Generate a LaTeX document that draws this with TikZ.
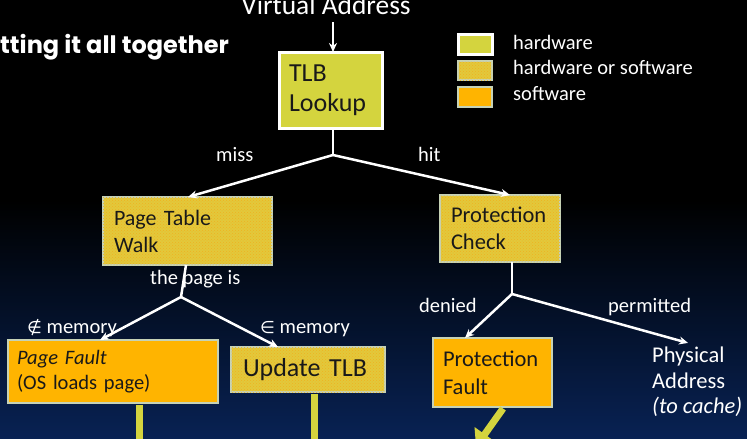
\documentclass[tikz,border=0pt]{standalone}
\usepackage{fontspec}
\setmainfont{Carlito}
\newfontfamily\titlefont{Poppins}
\newfontfamily\symfont{DejaVu Sans}
\usetikzlibrary{arrows.meta,patterns,calc}
\definecolor{hwc}{RGB}{212,212,62}
\definecolor{hwswc}{RGB}{226,200,60}
\definecolor{dotc}{RGB}{240,178,30}
\definecolor{swc}{RGB}{255,180,0}
\definecolor{edgec}{RGB}{198,210,182}
\definecolor{navy}{RGB}{8,34,84}
\definecolor{txt}{RGB}{25,25,25}
\begin{document}
\begin{tikzpicture}[x=1pt,y=-1pt,
 box/.style={draw=edgec, line width=2.5pt, anchor=north west, inner ysep=0pt, text=txt, align=left, outer sep=0pt},
 hwbox/.style={box, draw=white, line width=3pt, fill=hwc},
 hwswbox/.style={box, fill=hwswc, postaction={pattern=crosshatch dots, pattern color=dotc}},
 swbox/.style={box, fill=swc},
 wline/.style={white, line width=2.5pt},
 warrow/.style={wline, -{Stealth[length=9pt,width=8pt]}},
 ylane/.style={hwc, line width=7pt},
 lbl/.style={white, anchor=base west, inner sep=0pt, font=\fontsize{20.5}{24}\selectfont},
]
\useasboundingbox (0,0) rectangle (747,439);
\fill[black] (0,0) rectangle (747,439);
\shade[top color=black, bottom color=navy] (0,200) rectangle (747,440);

% title and legend
\node[white, anchor=base west, inner sep=0pt, font=\titlefont\bfseries\fontsize{24}{28}\selectfont] (title) at (0,53) {tting it all together};
\node[hwbox, minimum width=34pt, minimum height=20pt, inner sep=0pt] (lg1) at (458,34) {};
\node[hwswbox, minimum width=34pt, minimum height=19pt, inner sep=0pt] (lg2) at (458,61) {};
\node[swbox, minimum width=34pt, minimum height=20pt, inner sep=0pt] (lg3) at (458,87) {};
\node[lbl] (lt1) at (513,49) {hardware};
\node[lbl] (lt2) at (513,74) {hardware or software};
\node[lbl] (lt3) at (513,100) {software};

% top
\node[white, anchor=base, inner sep=0pt, font=\fontsize{27.4}{30}\selectfont] (va) at (326,14) {Virtual Address};
\node[hwbox, minimum width=103pt, minimum height=76pt, inner xsep=10pt, text width=83pt, font=\fontsize{26}{30}\selectfont] (tlb) at (279,52) {TLB\\Lookup};

% second row
\node[hwswbox, minimum width=169pt, minimum height=68pt, inner xsep=11pt, text width=147pt, font=\fontsize{22}{27}\selectfont] (ptw) at (103,197) {Page Table\\Walk};
\node[hwswbox, minimum width=120pt, minimum height=67pt, inner xsep=11pt, text width=98pt, font=\fontsize{22.5}{27}\selectfont] (pc) at (440,195) {Protection\\Check};

% third row
\node[swbox, minimum width=210pt, minimum height=63pt, inner xsep=9pt, text width=192pt, font=\fontsize{20.5}{25}\selectfont] (pgf) at (8,340) {\textit{Page Fault}\\(OS loads page)};
\node[hwswbox, minimum width=154pt, minimum height=45pt, inner xsep=12pt, text width=130pt, font=\fontsize{26}{30}\selectfont] (utlb) at (231,347) {Update TLB};
\node[swbox, minimum width=119pt, minimum height=69pt, inner xsep=10pt, text width=99pt, font=\fontsize{22.5}{28}\selectfont] (prf) at (433,338) {Protection\\Fault};
\node[white, anchor=west, inner sep=0pt, align=left, font=\fontsize{22.5}{25.5}\selectfont] (pa) at (652,382) {Physical\\Address\\\textit{(to cache)}};

% junctions
\coordinate (j1) at (333,155);
\coordinate (j2) at (181,297);
\coordinate (j3) at (512,294);

% connectors
\draw[warrow] ([xshift=7pt,yshift=-8pt]va.south) -- ([xshift=2.5pt]tlb.north);
\draw[wline] ([xshift=2.5pt]tlb.south) -- (j1);
\draw[warrow] (j1) -- ([xshift=85pt]ptw.north west);
\draw[warrow] (j1) -- ([xshift=70pt]pc.north west);
\draw[wline] ([xshift=-1.5pt]ptw.south) -- (j2);
\draw[warrow] (j2) -- ([xshift=92pt]pgf.north west);
\draw[warrow] (j2) -- ([xshift=47pt]utlb.north west);
\draw[wline] ([xshift=12pt]pc.south) -- (j3);
\draw[warrow] (j3) -- ([xshift=32pt]prf.north west);
\draw[warrow] (j3) -- ([xshift=36pt,yshift=4pt]pa.north west);

% labels
\node[lbl] (lmiss) at (216,161) {miss};
\node[lbl] (lhit) at (418,161) {hit};
\node[lbl] (lpage) at (150,284) {the page is};
\node[lbl] (lnot) at (27,333) {{\symfont\fontsize{17}{20}\selectfont ∉} memory};
\node[lbl] (lin) at (260,333) {{\symfont\fontsize{17}{20}\selectfont ∈} memory};
\node[lbl] (lden) at (419,312) {denied};
\node[lbl] (lperm) at (608,312) {permitted};

% lanes leaving the picture
\draw[ylane] ([xshift=131pt,yshift=-1.5pt]pgf.south west) -- ++(0,50);
\draw[ylane] ([xshift=83pt,yshift=-1.5pt]utlb.south west) -- ++(0,60);
\draw[ylane, -{Triangle[length=15pt,width=24pt]}] ([xshift=70pt,yshift=-1.5pt]prf.south west) -- ++(-27,38);
\end{tikzpicture}
\end{document}
